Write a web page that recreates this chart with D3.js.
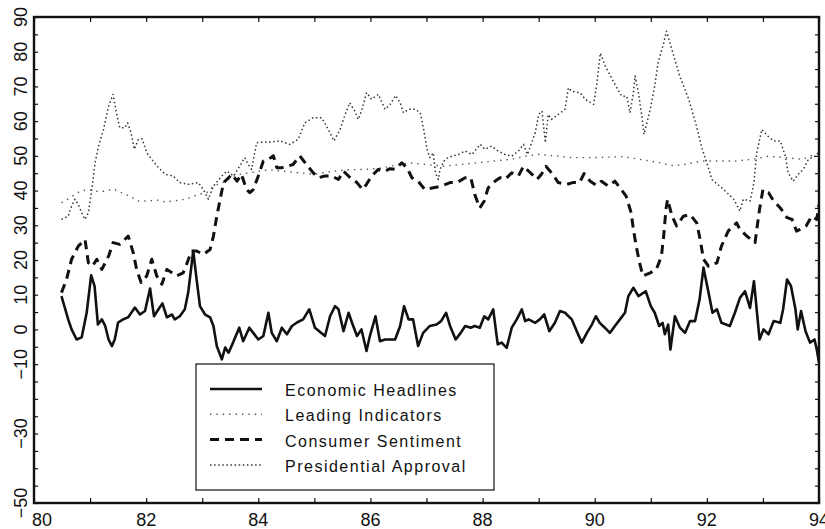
<!DOCTYPE html>
<html>
<head>
<meta charset="utf-8">
<script src="https://cdn.jsdelivr.net/npm/d3@7"></script>
<style>
  body { margin: 0; background: #fff; }
  svg text { font-family: "Liberation Sans", Arial, sans-serif; fill: #111; }
</style>
</head>
<body>
<div id="chart"></div>
<script>
// series as [year, value] pairs
var headlines = [
  [80.49,9.6],[80.61,2.9],[80.67,0],[80.76,-2.9],[80.85,-2.3],[80.94,4.9],[81.02,15.6],[81.08,12.5],
  [81.14,1.4],[81.21,2.9],[81.27,1],[81.33,-2.9],[81.39,-4.8],[81.44,-2.9],[81.5,2],[81.59,2.9],
  [81.68,3.5],[81.8,6.3],[81.89,4.3],[81.98,5.3],[82.07,11.8],[82.14,3.8],[82.22,5.8],[82.29,7.5],
  [82.37,3.5],[82.46,4.3],[82.51,2.9],[82.6,3.8],[82.69,5.8],[82.75,10.6],[82.84,22.6],[82.9,14.4],
  [82.96,6.7],[83.05,4.3],[83.14,3.5],[83.2,1],[83.26,-4.8],[83.35,-8.6],[83.41,-5.2],[83.47,-6.7],
  [83.55,-3.8],[83.66,0.5],[83.73,-3.4],[83.84,0.5],[83.91,-1],[84.0,-2.9],[84.09,-1.9],[84.18,4.8],
  [84.24,-1],[84.33,-3.4],[84.42,0.5],[84.51,-1.4],[84.6,1],[84.69,2],[84.8,2.9],[84.91,5.8],
  [85.01,0.5],[85.19,-1.9],[85.28,3.8],[85.37,6.7],[85.43,5.8],[85.52,-0.5],[85.61,4.8],[85.67,2],
  [85.76,-1.9],[85.84,0],[85.93,-6.2],[85.99,-1.9],[86.09,3.8],[86.17,-3.4],[86.26,-2.9],[86.44,-2.9],
  [86.53,1],[86.6,6.7],[86.68,2.9],[86.76,2.9],[86.85,-4.8],[86.94,-1],[87.06,1],[87.18,1.4],
  [87.26,2.4],[87.35,4.8],[87.42,1],[87.52,-2.9],[87.61,-1],[87.69,1],[87.79,0.5],[87.86,1],
  [87.95,0.5],[88.03,3.8],[88.1,2.9],[88.19,5.8],[88.27,-4.3],[88.34,-3.8],[88.43,-5.3],[88.52,0.5],
  [88.61,2.9],[88.7,5.8],[88.76,2.4],[88.82,2.9],[88.94,1.9],[89.02,2.9],[89.1,4.3],[89.19,-0.5],
  [89.29,1.9],[89.38,5.3],[89.47,4.8],[89.59,2.9],[89.68,-0.5],[89.77,-3.8],[89.86,-1],[89.95,1.4],
  [90.02,3.8],[90.09,1.9],[90.18,0.5],[90.27,-1],[90.36,1],[90.45,2.9],[90.54,4.8],[90.6,9.6],
  [90.69,12],[90.78,9.6],[90.91,11],[91.0,6.7],[91.07,4.8],[91.15,1],[91.21,1.9],[91.25,-1.4],
  [91.31,1.4],[91.35,-5.8],[91.43,3.8],[91.52,0.5],[91.61,-1],[91.7,2.4],[91.79,2.4],[91.87,8.6],
  [91.94,17.8],[92.03,10.6],[92.1,4.8],[92.18,5.8],[92.26,1.9],[92.41,1],[92.5,4.8],[92.59,9.1],
  [92.68,11],[92.77,6.2],[92.84,13.9],[92.94,-2.9],[93.01,0],[93.1,-1.4],[93.19,2.4],[93.31,1.9],
  [93.36,5.8],[93.43,14.4],[93.5,12.5],[93.58,5.8],[93.62,0],[93.68,5.3],[93.76,-0.5],[93.84,-3.8],
  [93.92,-2.9],[93.96,-5.8],[94.0,-9.5]
];

var leading = [
  [80.49,36.5],[80.64,37.9],[80.82,39.8],[80.97,40.3],[81.12,39.8],[81.27,39.8],[81.41,40.5],[81.56,39.4],
  [81.71,38.4],[81.86,37],[82.04,37],[82.19,37.3],[82.34,36.7],[82.48,37],[82.63,37.3],[82.78,37.9],
  [82.93,38.9],[83.08,39.4],[83.2,41.3],[83.4,42.5],[83.6,44.5],[83.8,45],[84.0,45.5],[84.2,46],
  [84.5,45.5],[84.8,45],[85.0,44.7],[85.3,45.5],[85.6,46],[85.9,46.1],[86.2,46.5],[86.5,47.5],
  [86.7,48],[87.0,47.5],[87.3,47],[87.6,47.5],[87.9,48],[88.2,48.5],[88.5,49],[88.8,50],
  [89.0,50.4],[89.3,50],[89.6,49.5],[89.9,49.5],[90.2,49.6],[90.5,49.8],[90.8,49],[91.1,48.2],
  [91.4,47.2],[91.6,47.5],[91.9,48.5],[92.2,48.5],[92.5,48.5],[92.8,49],[93.1,49.9],[93.4,49.5],
  [93.7,49],[94.0,50.9]
];

var sentiment = [
  [80.49,10.6],[80.58,14.4],[80.67,20.2],[80.79,24],[80.91,25.9],[80.97,19.2],[81.04,18.2],[81.12,20.2],
  [81.21,17.3],[81.33,21.1],[81.41,25],[81.53,24.5],[81.68,26.9],[81.77,22.1],[81.83,17.3],[81.91,13.5],
  [82.01,15.4],[82.1,20.2],[82.19,15.4],[82.28,13],[82.37,17.3],[82.46,16.3],[82.54,15.4],[82.66,16.3],
  [82.72,18.7],[82.81,22.6],[82.9,22.6],[83.02,21.6],[83.14,23],[83.2,26.9],[83.26,32.6],[83.32,37.5],
  [83.38,42.3],[83.44,43.2],[83.53,44.7],[83.62,42.7],[83.7,44.7],[83.79,40.3],[83.85,39.4],[83.91,40.3],
  [84.0,44.2],[84.09,48.5],[84.18,49],[84.27,50],[84.33,46.6],[84.42,46.6],[84.51,47],[84.62,47.5],
  [84.74,50],[84.86,47.5],[84.98,45.1],[85.07,43.7],[85.19,44.2],[85.31,44.2],[85.43,43.2],[85.52,45.6],
  [85.64,43.7],[85.76,42.3],[85.86,40.3],[85.93,41.8],[86.02,44.2],[86.14,46.1],[86.26,45.6],[86.35,46.3],
  [86.44,46.1],[86.56,48],[86.65,46.6],[86.74,43.7],[86.85,42.7],[86.97,40.3],[87.12,40.8],[87.27,41.3],
  [87.42,42.3],[87.54,42.3],[87.69,43.7],[87.79,43.7],[87.86,38.9],[87.95,35],[88.03,37],[88.1,40.8],
  [88.22,42.7],[88.31,43.7],[88.4,43.2],[88.52,45.1],[88.64,44.2],[88.73,47],[88.88,44.7],[88.97,43.2],
  [89.05,44.7],[89.13,47],[89.23,45.1],[89.35,42.3],[89.5,41.8],[89.61,42.3],[89.73,42.3],[89.81,44.9],
  [89.92,42.7],[90.03,41.5],[90.12,42.7],[90.24,41.3],[90.36,42.7],[90.45,40.8],[90.56,38.4],[90.65,33.6],
  [90.69,28.8],[90.74,24],[90.8,19.2],[90.86,15.4],[90.99,16.3],[91.1,17.3],[91.19,21.1],[91.23,26.9],
  [91.27,34.6],[91.3,37.5],[91.38,32.6],[91.46,29.8],[91.58,32.6],[91.7,33.1],[91.82,30.7],[91.88,25.9],
  [91.94,20.2],[92.03,18.2],[92.18,19.2],[92.26,24],[92.38,28.3],[92.53,30.7],[92.59,28.8],[92.71,26.9],
  [92.86,25],[92.89,28.8],[92.94,34.6],[93.0,40.3],[93.1,39.4],[93.19,37],[93.31,35],[93.43,32.2],
  [93.52,31.7],[93.6,28.3],[93.66,28.8],[93.77,29.8],[93.87,32.6],[93.96,31.7],[94.0,36]
];

var approval = [
  [80.49,31.7],[80.61,32.6],[80.67,35.5],[80.73,37.5],[80.79,36],[80.85,33.6],[80.91,31.7],[80.97,33.6],
  [81.03,40.3],[81.09,48],[81.15,52.8],[81.24,57.6],[81.33,64.3],[81.41,67.7],[81.47,62.4],[81.53,58.1],
  [81.62,58.1],[81.67,59.5],[81.73,56.7],[81.79,51.9],[81.86,54.7],[81.93,54.9],[82.01,50.9],[82.1,49],
  [82.22,46.6],[82.34,44.7],[82.48,44.2],[82.6,42.3],[82.75,41.8],[82.93,42.3],[83.02,40.3],[83.11,37.5],
  [83.2,41.3],[83.35,44.2],[83.44,45.6],[83.56,44.2],[83.76,49.5],[83.82,47.5],[83.88,46.1],[83.97,53.8],
  [84.09,54],[84.24,54],[84.39,54.3],[84.56,53.3],[84.71,54.7],[84.83,59.5],[84.98,61],[85.13,61],
  [85.25,57.6],[85.35,54.3],[85.46,57.6],[85.54,61.5],[85.63,65.3],[85.72,62.9],[85.78,60.5],[85.84,62.9],
  [85.93,68.2],[86.02,66.3],[86.14,67.7],[86.26,63.4],[86.35,64.8],[86.45,67.4],[86.53,65.3],[86.59,62.4],
  [86.68,63.4],[86.8,63.4],[86.89,62.4],[86.95,57.6],[87.01,51.9],[87.06,49.5],[87.12,50.9],[87.16,45.1],
  [87.21,43.2],[87.24,46.1],[87.33,49],[87.45,49.9],[87.57,50.4],[87.69,51.4],[87.81,50.4],[87.96,53.3],
  [88.04,51.9],[88.16,52.8],[88.28,51.4],[88.4,50.4],[88.52,49.9],[88.64,51.4],[88.73,53.3],[88.8,50.4],
  [88.94,56.7],[89.0,61.9],[89.06,62.9],[89.12,53.8],[89.17,61.9],[89.23,60.5],[89.47,63.4],[89.53,69.6],
  [89.59,68.6],[89.74,68.2],[89.83,66.3],[89.98,64.8],[90.04,71],[90.1,79.6],[90.19,75.8],[90.36,70.6],
  [90.48,67.2],[90.57,67.2],[90.63,62.4],[90.69,68.2],[90.72,73],[90.78,68.2],[90.84,61.5],[90.88,56.2],
  [90.99,63.4],[91.07,70.1],[91.13,76.8],[91.23,82.5],[91.28,85.9],[91.52,72.8],[91.67,66.6],[91.8,59.5],
  [91.91,52.3],[92.0,48],[92.09,43.2],[92.3,40.3],[92.48,37.5],[92.59,34.1],[92.65,37.5],[92.77,37],
  [92.84,42.3],[92.89,50.9],[92.98,57.6],[93.1,55.5],[93.19,54.3],[93.31,54.3],[93.4,49.9],[93.45,45.1],
  [93.54,42.7],[93.63,44.7],[93.72,46.1],[93.81,49],[93.93,49.9],[94.0,50.9]
];

var seriesNames = ["Economic Headlines", "Leading Indicators", "Consumer Sentiment", "Presidential Approval"];
var xTickLabels = [80, 82, 84, 86, 88, 90, 92, 94];
var yTickLabels = [90, 80, 70, 60, 50, 40, 30, 20, 10, 0, -10, -30, -50];

var W = 825, H = 529;
var plotL = 34, plotR = 819, plotT = 17, plotB = 503;

var x = d3.scaleLinear().domain([80, 94]).range([plotL, plotR]);
var y = d3.scaleLinear().domain([-50, 90]).range([plotB, plotT]);

var svg = d3.select("#chart").append("svg").attr("width", W).attr("height", H);

// line styles per series
var styles = [
  {data: headlines, width: 2.6, dash: null, color: "#111"},
  {data: leading, width: 1.4, dash: "1.4,5", color: "#555"},
  {data: sentiment, width: 3, dash: "9,6", color: "#111"},
  {data: approval, width: 1.5, dash: "1.5,2.6", color: "#333"}
];

var line = d3.line().x(function(d) { return x(d[0]); }).y(function(d) { return y(d[1]); });

svg.append("clipPath").attr("id", "clip")
  .append("rect").attr("x", plotL).attr("y", plotT).attr("width", plotR - plotL).attr("height", plotB - plotT);

var plot = svg.append("g").attr("clip-path", "url(#clip)");
styles.forEach(function(s) {
  plot.append("path")
    .attr("d", line(s.data))
    .attr("fill", "none")
    .attr("stroke", s.color)
    .attr("stroke-width", s.width)
    .attr("stroke-dasharray", s.dash)
    .attr("stroke-linejoin", "round");
});

// frame with inward ticks on all four sides
var fmt = d3.format("d");
svg.append("g").attr("transform", "translate(0," + plotB + ")")
  .call(d3.axisBottom(x).tickValues(d3.range(80, 95, 1)).tickSizeInner(-5).tickSizeOuter(0).tickFormat(""));
svg.append("g").attr("transform", "translate(0," + plotT + ")")
  .call(d3.axisTop(x).tickValues(d3.range(80, 95, 1)).tickSizeInner(-5).tickSizeOuter(0).tickFormat(""));
svg.append("g").attr("transform", "translate(" + plotL + ",0)")
  .call(d3.axisLeft(y).tickValues(d3.range(-50, 91, 5)).tickSizeInner(-4).tickSizeOuter(0).tickFormat(""));
svg.append("g").attr("transform", "translate(" + plotR + ",0)")
  .call(d3.axisRight(y).tickValues(d3.range(-50, 91, 5)).tickSizeInner(-4).tickSizeOuter(0).tickFormat(""));
svg.selectAll(".domain").remove();
svg.selectAll(".tick line").attr("stroke", "#111").attr("stroke-width", 1.2);

svg.append("rect")
  .attr("x", plotL).attr("y", plotT).attr("width", plotR - plotL).attr("height", plotB - plotT)
  .attr("fill", "none").attr("stroke", "#111").attr("stroke-width", 2.4);

// tick labels
svg.selectAll(".xlab").data(xTickLabels).enter().append("text")
  .attr("class", "xlab")
  .attr("x", function(d, i) { return i === 0 ? x(d) - 2 : x(d); })
  .attr("y", 526)
  .attr("text-anchor", function(d, i) { return i === 0 ? "start" : "middle"; })
  .attr("font-size", 18)
  .text(fmt);

svg.selectAll(".ylab").data(yTickLabels).enter().append("text")
  .attr("class", "ylab")
  .attr("transform", function(d) { return "translate(27," + y(d) + ") rotate(-90)"; })
  .attr("text-anchor", "middle")
  .attr("font-size", 18)
  .text(function(d) { return d < 0 ? "\u2212" + Math.abs(d) : d; });

// legend
var lg = svg.append("g");
lg.append("rect").attr("x", 196).attr("y", 364).attr("width", 298).attr("height", 126)
  .attr("fill", "#fff").attr("stroke", "#111").attr("stroke-width", 1.2);

seriesNames.forEach(function(name, i) {
  var ly = 389 + i * 25.3;
  var s = styles[i];
  lg.append("line").attr("x1", 210).attr("x2", 262).attr("y1", ly).attr("y2", ly)
    .attr("stroke", s.color).attr("stroke-width", s.width).attr("stroke-dasharray", s.dash);
  lg.append("text").attr("x", 285).attr("y", ly + 7)
    .attr("font-size", 16).attr("letter-spacing", 1.5)
    .text(name);
});
</script>
</body>
</html>
